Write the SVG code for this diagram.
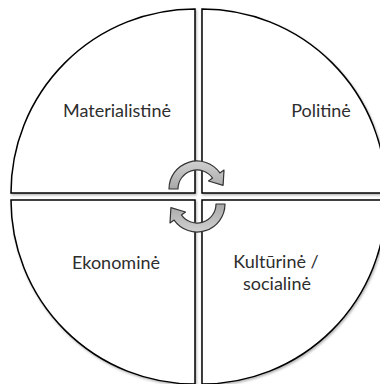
<svg xmlns="http://www.w3.org/2000/svg" width="380" height="384" viewBox="0 0 380 384">
<defs>
<filter id="sh" x="-10%" y="-10%" width="120%" height="120%">
<feDropShadow dx="1" dy="1.5" stdDeviation="1" flood-color="#000" flood-opacity="0.3"/>
</filter>
<linearGradient id="ag" x1="0" y1="0" x2="0" y2="1">
<stop offset="0" stop-color="#d0d0d0"/>
<stop offset="1" stop-color="#a8a8a8"/>
</linearGradient>
</defs>
<style>
.q{fill:#fff;stroke:#000;stroke-width:1.5;filter:url(#sh)}
.t{font-family:Lato,"Open Sans",sans-serif;font-size:18px;fill:#2e2e2e;text-anchor:middle}
.arr{fill:url(#ag);stroke:#333;stroke-width:1.2;stroke-linejoin:round}
</style>
<g id="materialistine">
<path class="q" d="M195,193 L11,193 A184,184 0 0 1 195,9 Z"/>
<text class="t" x="117" y="117">Materialistinė</text>
</g>
<g id="politine">
<path class="q" d="M202,193 L202,9 A184,184 0 0 1 386,193 Z"/>
<text class="t" x="321" y="117">Politinė</text>
</g>
<g id="ekonomine">
<path class="q" d="M195,200 L195,384 A184,184 0 0 1 11,200 Z"/>
<text class="t" x="116" y="269">Ekonominė</text>
</g>
<g id="kulturine">
<path class="q" d="M202,200 L386,200 A184,184 0 0 1 202,384 Z"/>
<text class="t" x="276" y="268">Kultūrinė /</text>
<text class="t" x="277" y="290">socialinė</text>
</g>
<g id="connectors">
<path id="arrow-top" class="arr" d="M169,189 A28,28 0 0 1 219.9,172.9 L224,170.1 L223.1,185.3 L208.5,181 L212.6,178.1 A19,19 0 0 0 178,189 Z"/>
<path id="arrow-bottom" class="arr" transform="rotate(180 197 196.5)" d="M169,189 A28,28 0 0 1 219.9,172.9 L224,170.1 L223.1,185.3 L208.5,181 L212.6,178.1 A19,19 0 0 0 178,189 Z"/>
</g>
</svg>
